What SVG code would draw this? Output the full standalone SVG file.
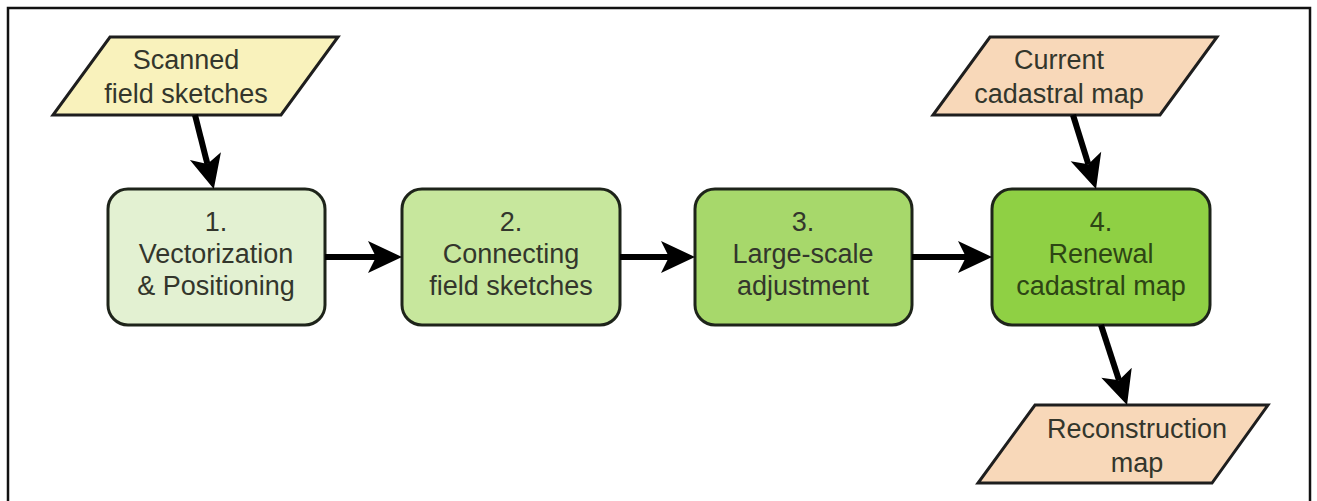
<svg xmlns="http://www.w3.org/2000/svg" width="1317" height="501" viewBox="0 0 1317 501">
<defs>
<style>
.frame{fill:none;stroke:#111;stroke-width:2.5}
.box{stroke:#1e241a;stroke-width:3}
.para{stroke:#1e1e1e;stroke-width:3}
.t{font-family:"Liberation Sans",Arial,sans-serif;font-size:27px;text-anchor:middle;fill:#33362c}
.conn{stroke:#000;stroke-width:6;fill:none}
</style>
<marker id="arrow" viewBox="-10 -18 38 36" refX="0" refY="0" markerWidth="38" markerHeight="36" markerUnits="userSpaceOnUse" orient="auto">
<path d="M26,0 L-8,-16 L0,0 L-8,16 Z" fill="#000"/>
</marker>
</defs>
<rect width="1317" height="501" fill="#fff"/>
<rect class="frame" x="8" y="8" width="1302" height="600"/>

<g id="scanned">
<polygon class="para" points="110,37 338,37 281,115 53,115" fill="#f9f2bc"/>
<text class="t" x="186" y="69">Scanned</text>
<text class="t" x="186" y="103">field sketches</text>
</g>

<g id="current">
<polygon class="para" points="990,37 1217,37 1160,115 933,115" fill="#f8d8b9"/>
<text class="t" x="1059" y="69">Current</text>
<text class="t" x="1059" y="103">cadastral map</text>
</g>

<g id="reconstruction">
<polygon class="para" points="1035,405 1268,405 1212,483 978,483" fill="#f8d8b9"/>
<text class="t" x="1137" y="438">Reconstruction</text>
<text class="t" x="1137" y="472">map</text>
</g>

<g id="step1">
<rect class="box" x="108" y="189" width="217" height="136" rx="20" fill="#e3f1d2"/>
<text class="t" x="216" y="231">1.</text>
<text class="t" x="216" y="263">Vectorization</text>
<text class="t" x="216" y="295">&amp; Positioning</text>
</g>

<g id="step2">
<rect class="box" x="402" y="189" width="218" height="136" rx="20" fill="#c7e79d"/>
<text class="t" x="511" y="231">2.</text>
<text class="t" x="511" y="263">Connecting</text>
<text class="t" x="511" y="295">field sketches</text>
</g>

<g id="step3">
<rect class="box" x="695" y="189" width="217" height="136" rx="20" fill="#a7d86b"/>
<text class="t" x="803" y="231">3.</text>
<text class="t" x="803" y="263">Large-scale</text>
<text class="t" x="803" y="295">adjustment</text>
</g>

<g id="step4">
<rect class="box" x="992" y="189" width="218" height="136" rx="20" fill="#8fd044"/>
<text class="t" x="1101" y="231" fill="#2d4514" style="fill:#2d4514">4.</text>
<text class="t" x="1101" y="263" style="fill:#2d4514">Renewal</text>
<text class="t" x="1101" y="295" style="fill:#2d4514">cadastral map</text>
</g>

<g id="connectors">
<line class="conn" x1="195" y1="115" x2="207.4" y2="163.9" marker-end="url(#arrow)"/>
<line class="conn" x1="325" y1="257" x2="376" y2="257" marker-end="url(#arrow)"/>
<line class="conn" x1="620" y1="257" x2="669" y2="257" marker-end="url(#arrow)"/>
<line class="conn" x1="912" y1="257" x2="966" y2="257" marker-end="url(#arrow)"/>
<line class="conn" x1="1073" y1="115" x2="1088.3" y2="164.2" marker-end="url(#arrow)"/>
<line class="conn" x1="1101" y1="325" x2="1119" y2="380.3" marker-end="url(#arrow)"/>
</g>
</svg>
